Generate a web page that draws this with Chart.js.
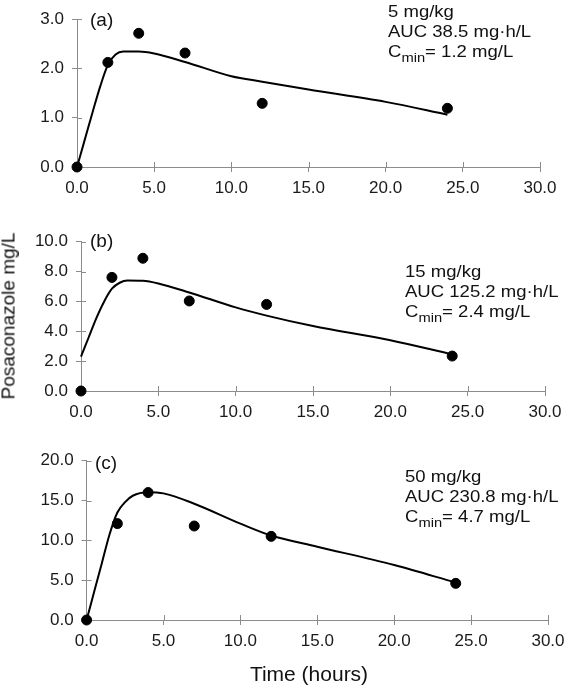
<!DOCTYPE html>
<html>
<head>
<meta charset="utf-8">
<script src="https://cdn.jsdelivr.net/npm/chart.js@4"></script>
<style>
  body { margin: 0; background: #fff; }
  #wrap { position: relative; width: 566px; height: 687px; font-family: "Liberation Sans", Arial, sans-serif; color: #111; }
  canvas { position: absolute; left: 0; }
  .note { position: absolute; font-size: 17px; line-height: 20px; white-space: nowrap; transform: scaleX(1.09); transform-origin: left top; }
  .note span { font-size: 13.5px; position: relative; top: 5px; }
  .tag { position: absolute; font-size: 19px; line-height: 19px; }
  .ytitle { position: absolute; font-size: 19px; line-height: 19px; white-space: nowrap; transform: translate(-50%, -50%) rotate(-90deg); }
  .xtitle { position: absolute; font-size: 21px; line-height: 21px; white-space: nowrap; transform: translateX(-50%); }
</style>
</head>
<body>
<div id="wrap">
  <canvas id="chartA" width="566" height="210" style="top:0px"></canvas>
  <canvas id="chartB" width="566" height="210" style="top:220px"></canvas>
  <canvas id="chartC" width="566" height="247" style="top:440px"></canvas>

  <div class="tag" style="left:90px; top:10px">(a)</div>
  <div class="tag" style="left:90px; top:231px">(b)</div>
  <div class="tag" style="left:95px; top:453px">(c)</div>

  <div class="note" style="left:388px; top:1.5px">5 mg/kg<br>AUC 38.5 mg·h/L<br>C<span>min</span>= 1.2 mg/L</div>
  <div class="note" style="left:405px; top:261.5px">15 mg/kg<br>AUC 125.2 mg·h/L<br>C<span>min</span>= 2.4 mg/L</div>
  <div class="note" style="left:405px; top:466.5px">50 mg/kg<br>AUC 230.8 mg·h/L<br>C<span>min</span>= 4.7 mg/L</div>

  <div class="ytitle" style="left:8px; top:316px">Posaconazole mg/L</div>
  <div class="xtitle" style="left:309px; top:663px">Time (hours)</div>
</div>
<script>
// measured samples (hours after dose) and concentrations (mg/L)
const sampleHours = [0, 2, 4, 7, 12, 24];
const conc5 = [0, 2.12, 2.71, 2.31, 1.29, 1.19];
const conc15 = [0, 7.61, 8.89, 6.03, 5.8, 2.34];
const conc50 = [0, 12.1, 16.0, 11.8, 10.5, 4.6];

// model fit curves
const fitHours = [0, 0.5, 1, 1.5, 2, 2.5, 3, 4, 5, 7, 10, 12, 15, 20, 24];
const fit5 = [0, 0.55, 1.1, 1.63, 2.07, 2.28, 2.34, 2.34, 2.3, 2.13, 1.84, 1.73, 1.57, 1.32, 1.06];
const fit15 = [2.3, 3.6, 4.9, 6.0, 6.85, 7.25, 7.4, 7.38, 7.2, 6.6, 5.6, 5.05, 4.35, 3.4, 2.45];
const fit50 = [0, 3.6, 7.2, 10.8, 13.5, 14.8, 15.6, 16.05, 15.9, 14.6, 12.1, 10.6, 9.2, 6.9, 4.7];

const xMax = 30, xStep = 5;

const axisGray = "#8c8c8c";
const tickColor = "#1a1a1a";

// small inward half of the crossing tick marks
const innerTicks = {
  id: "innerTicks",
  beforeDatasetsDraw(chart) {
    const { ctx, chartArea: a, scales: { x, y } } = chart;
    ctx.save();
    ctx.strokeStyle = axisGray;
    ctx.lineWidth = 1;
    ctx.beginPath();
    x.ticks.forEach(t => {
      const px = Math.round(x.getPixelForValue(t.value)) + 0.5;
      ctx.moveTo(px, a.bottom);
      ctx.lineTo(px, a.bottom - 5);
    });
    y.ticks.forEach(t => {
      const py = Math.round(y.getPixelForValue(t.value)) + 0.5;
      ctx.moveTo(a.left, py);
      ctx.lineTo(a.left + 5, py);
    });
    ctx.stroke();
    ctx.restore();
  }
};

function makePanel(id, conc, fit, yMax, yStep, box) {
  const h = document.getElementById(id).height;
  return new Chart(document.getElementById(id), {
    type: "scatter",
    data: {
      datasets: [
        {
          data: fitHours.map((t, i) => ({ x: t, y: fit[i] })),
          showLine: true,
          borderColor: "#000",
          borderWidth: 2,
          pointRadius: 0,
          cubicInterpolationMode: "monotone",
          clip: false
        },
        {
          data: sampleHours.map((t, i) => ({ x: t, y: conc[i] })),
          showLine: false,
          pointRadius: 5,
          pointBackgroundColor: "#000",
          pointBorderColor: "#000",
          clip: false
        }
      ]
    },
    options: {
      responsive: false,
      animation: false,
      layout: { padding: { top: box.top, right: 566 - box.right, left: 0, bottom: 0 } },
      plugins: { legend: { display: false }, tooltip: { enabled: false } },
      scales: {
        x: {
          type: "linear",
          min: 0, max: xMax,
          border: { color: axisGray, width: 1 },
          grid: { drawOnChartArea: false, color: axisGray, tickLength: 5 },
          ticks: {
            stepSize: xStep, padding: 6, color: tickColor,
            font: { family: "'Liberation Sans', Arial, sans-serif", size: 17 },
            maxRotation: 0,
            callback: v => v.toFixed(1)
          },
          afterFit: s => { s.height = h - box.bottom; s.paddingLeft = 0; s.paddingRight = 0; }
        },
        y: {
          min: 0, max: yMax,
          border: { color: axisGray, width: 1 },
          grid: { drawOnChartArea: false, color: axisGray, tickLength: 5 },
          ticks: {
            stepSize: yStep, padding: 8, color: tickColor,
            font: { family: "'Liberation Sans', Arial, sans-serif", size: 17 },
            callback: v => v.toFixed(1)
          },
          afterFit: s => { s.width = box.left; s.paddingTop = 0; s.paddingBottom = 0; }
        }
      }
    },
    plugins: [innerTicks]
  });
}

makePanel("chartA", conc5, fit5, 3, 1, { left: 77, right: 540, top: 19, bottom: 167 });
makePanel("chartB", conc15, fit15, 10, 2, { left: 81, right: 545, top: 21.7, bottom: 171 });
makePanel("chartC", conc50, fit50, 20, 5, { left: 86.6, right: 548, top: 20.7, bottom: 180 });
</script>
</body>
</html>
